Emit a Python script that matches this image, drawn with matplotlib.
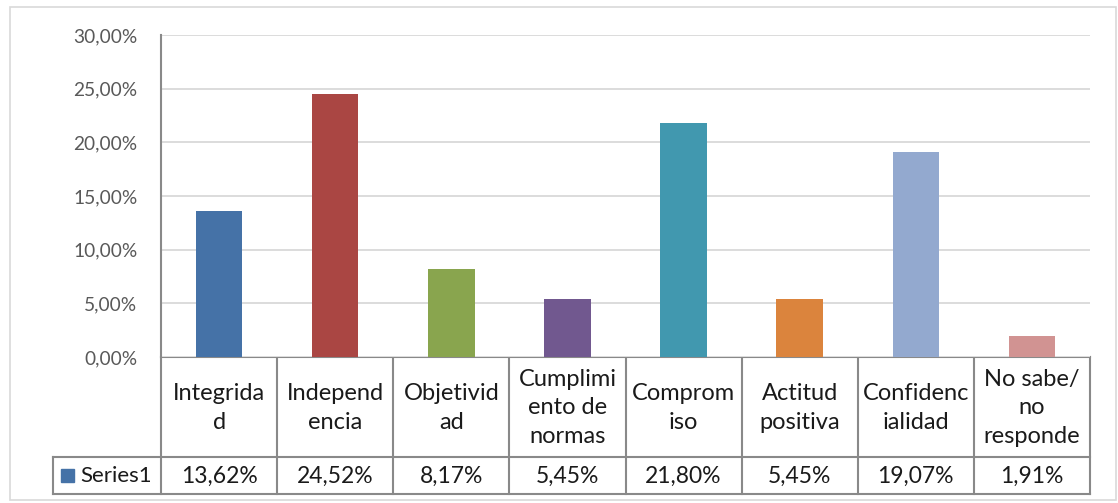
import matplotlib
matplotlib.use("Agg")
import matplotlib.pyplot as plt
from matplotlib.patches import Rectangle
from matplotlib.lines import Line2D

categories = ["Integrida\nd", "Independ\nencia", "Objetivid\nad", "Cumplimi\nento de\nnormas",
              "Comprom\niso", "Actitud\npositiva", "Confidenc\nialidad", "No sabe/\nno\nresponde"]
values = [13.62, 24.52, 8.17, 5.45, 21.80, 5.45, 19.07, 1.91]
value_labels = ["13,62%", "24,52%", "8,17%", "5,45%", "21,80%", "5,45%", "19,07%", "1,91%"]
yticks = [0, 5, 10, 15, 20, 25, 30]
ytick_labels = ["0,00%", "5,00%", "10,00%", "15,00%", "20,00%", "25,00%", "30,00%"]
series_name = "Series1"
colors = ["#4572A7", "#AA4643", "#89A54E", "#71588F", "#4198AF", "#DB843D", "#93A9CF", "#D19392"]

plt.rcParams['font.family'] = ['Lato', 'DejaVu Sans']

W, H = 1118, 503
fig = plt.figure(figsize=(W / 100, H / 100), dpi=100)

# overlay in pixel coords
ov = fig.add_axes([0, 0, 1, 1])
ov.set_xlim(0, W)
ov.set_ylim(H, 0)
ov.axis("off")
ov.add_patch(Rectangle((10, 7), 1106, 493, fill=False, edgecolor="#d9d9d9", lw=1.2))

L, R, T, B = 161, 1090, 35, 357
ax = fig.add_axes([L / W, 1 - B / H, (R - L) / W, (B - T) / H])
n = len(values)
x = list(range(n))
ax.bar(x, values, width=0.4, color=colors, zorder=3)
ax.set_xlim(-0.5, n - 0.5)
ax.set_ylim(0, 30)
ax.set_yticks(yticks)
ax.set_yticklabels(ytick_labels, fontsize=13.8, color="#595959")
ax.tick_params(axis="y", length=0, pad=17)
ax.set_xticks([])
ax.grid(axis="y", color="#d9d9d9", lw=1.3, zorder=0)
for s in ["top", "right", "bottom"]:
    ax.spines[s].set_visible(False)
ax.spines["left"].set_color("#898989")
ax.spines["left"].set_linewidth(1.5)

# data table
lc = "#898989"
lw = 1.5
row1_top, row1_bot, row2_bot = 357, 457, 494
leg_left = 53
colw = (R - L) / n
ov.add_line(Line2D([L, R], [row1_top, row1_top], color=lc, lw=lw))
ov.add_line(Line2D([leg_left, R], [row1_bot, row1_bot], color=lc, lw=lw))
ov.add_line(Line2D([leg_left, R], [row2_bot, row2_bot], color=lc, lw=lw))
ov.add_line(Line2D([leg_left, leg_left], [row1_bot, row2_bot], color=lc, lw=lw))
for i in range(n + 1):
    xx = L + i * colw
    ov.add_line(Line2D([xx, xx], [row1_top, row2_bot], color=lc, lw=lw))
for i, (c, v) in enumerate(zip(categories, value_labels)):
    cx = L + (i + 0.5) * colw
    ov.text(cx, (row1_top + row1_bot) / 2 + 1, c, ha="center", va="center",
            fontsize=17, color="#1a1a1a", linespacing=1.45)
    ov.text(cx, (row1_bot + row2_bot) / 2 + 1, v, ha="center", va="center",
            fontsize=16.5, color="#1a1a1a")
ov.add_patch(Rectangle((61, 469), 13, 13, color=colors[0]))
ov.text(80, (row1_bot + row2_bot) / 2 + 1, series_name, ha="left", va="center",
        fontsize=16, color="#1a1a1a")

fig.savefig("out.png", dpi=100)
